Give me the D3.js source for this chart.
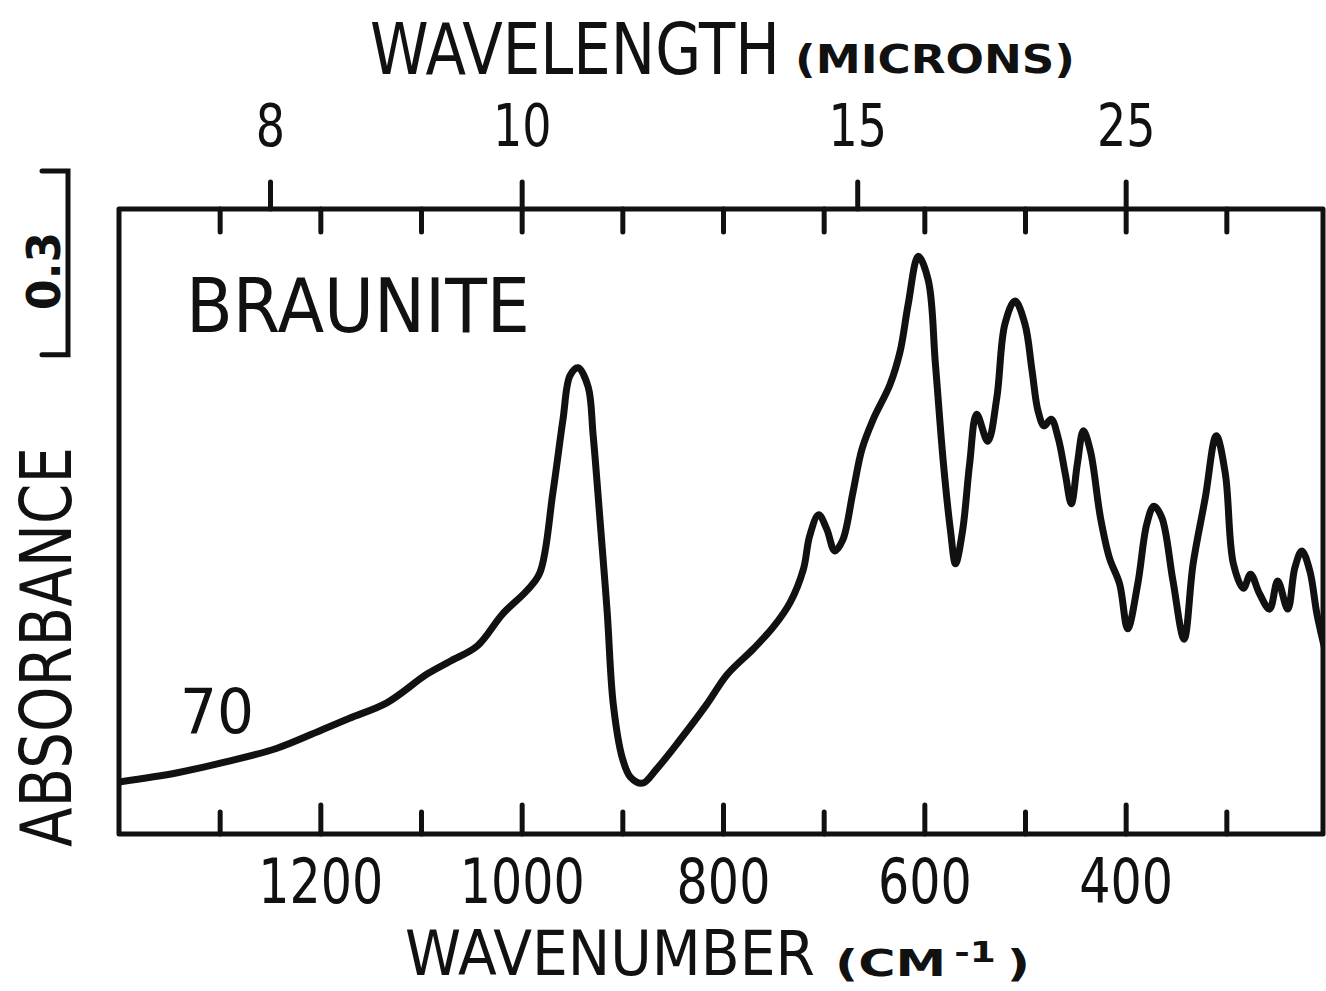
<!DOCTYPE html>
<html>
<head>
<meta charset="utf-8">
<title>Braunite IR absorbance spectrum</title>
<script src="https://cdn.jsdelivr.net/npm/d3@7"></script>
<style>
  html, body { margin: 0; padding: 0; background: #fff; }
  svg { display: block; }
  text { font-family: "DejaVu Sans", "Liberation Sans", sans-serif; fill: #111; }
</style>
</head>
<body>
<svg id="chart" width="1326" height="991"></svg>
<script>
// Infrared spectrum of braunite: wavenumber (cm-1) and absorbance
const wavenumber = [
  1400, 1342, 1293, 1243, 1197, 1171, 1134, 1094, 1071, 1044,
  1019, 995, 982, 969, 959, 952, 944, 934, 929, 922,
  915, 909, 900, 892, 880, 866, 843, 816, 796, 770,
  750, 733, 720, 714, 705, 697, 689, 681, 671, 662,
  651, 634, 624, 616, 606, 596, 589, 581, 574, 569,
  562, 555, 548, 537, 528, 520, 510, 500, 493, 487,
  481, 474, 467, 460, 454, 448, 442, 435, 425, 416,
  406, 398, 388, 379, 372, 364, 353, 342, 333, 321,
  310, 301, 293, 283, 276, 267, 257, 249, 239, 232,
  225, 217, 210, 201
];
const absorbance = [
  0.085, 0.100, 0.118, 0.140, 0.171, 0.189, 0.214, 0.261, 0.282, 0.307,
  0.359, 0.397, 0.426, 0.557, 0.676, 0.748, 0.761, 0.730, 0.651, 0.509,
  0.361, 0.212, 0.124, 0.093, 0.083, 0.106, 0.153, 0.212, 0.260, 0.302,
  0.338, 0.379, 0.433, 0.486, 0.521, 0.498, 0.462, 0.480, 0.557, 0.628,
  0.676, 0.734, 0.788, 0.865, 0.943, 0.903, 0.767, 0.604, 0.495, 0.441,
  0.495, 0.604, 0.685, 0.641, 0.712, 0.832, 0.870, 0.832, 0.756, 0.690,
  0.666, 0.677, 0.646, 0.588, 0.539, 0.604, 0.658, 0.625, 0.516, 0.450,
  0.408, 0.335, 0.408, 0.506, 0.535, 0.516, 0.413, 0.318, 0.441, 0.548,
  0.650, 0.588, 0.441, 0.401, 0.424, 0.392, 0.367, 0.413, 0.367, 0.434,
  0.462, 0.429, 0.359, 0.294
];

// Axis ticks
const wavenumberMajorTicks = [1200, 1000, 800, 600, 400];
const wavenumberMinorTicks = [1300, 1100, 900, 700, 500, 300];
const wavenumberTopTicks = [1300, 1200, 1100, 1000, 900, 800, 700, 600, 500, 400, 300];
const wavelengthTicks = [8, 10, 15, 25];   // microns
const absorbanceBar = 0.3;                 // scale-bar length

const svg = d3.select("#chart");
const W = +svg.attr("width");

const plot = { left: 119, right: 1327, top: 209, bottom: 834 };

const x = d3.scaleLinear().domain([1400, 200]).range([plot.left, plot.right]);
const y = d3.scaleLinear().domain([0, 1.02]).range([plot.bottom, plot.top]);

const frameRight = Math.min(plot.right, W - 3);
const ink = "#111";

// Place a text at (tx, ty) and squeeze it horizontally to a given width,
// mimicking the narrow plotter lettering.
function narrowText(parent, str, tx, ty, size, width, opts = {}) {
  const t = parent.append("text")
    .attr("text-anchor", opts.anchor || "start")
    .style("font-size", size + "px")
    .style("font-weight", opts.weight || "normal")
    .text(str);
  const natural = t.node().getComputedTextLength();
  const s = width / natural;
  t.attr("transform", `translate(${tx},${ty})${opts.rotate ? ` rotate(${opts.rotate})` : ""} scale(${s},1)`);
  return t;
}

// clip for the spectrum
svg.append("defs").append("clipPath").attr("id", "plotClip")
  .append("rect")
  .attr("x", plot.left).attr("y", plot.top)
  .attr("width", frameRight - plot.left).attr("height", plot.bottom - plot.top);

function styleAxis(g, width) {
  g.select(".domain").remove();
  g.selectAll(".tick line")
    .attr("stroke", ink).attr("stroke-width", width).attr("stroke-linecap", "round");
  g.selectAll(".tick text").attr("fill", ink);
}

// bottom axis: major ticks with labels
const gBottomMajor = svg.append("g")
  .attr("transform", `translate(0,${plot.bottom})`)
  .call(d3.axisBottom(x).tickValues(wavenumberMajorTicks)
    .tickSizeInner(-29).tickSizeOuter(0).tickPadding(24)
    .tickFormat(d3.format("d")));
styleAxis(gBottomMajor, 5);
gBottomMajor.selectAll(".tick text")
  .style("font-size", "63px")
  .attr("transform", "scale(0.78,1)");

// bottom axis: minor ticks
const gBottomMinor = svg.append("g")
  .attr("transform", `translate(0,${plot.bottom})`)
  .call(d3.axisBottom(x).tickValues(wavenumberMinorTicks)
    .tickSizeInner(-22).tickSizeOuter(0).tickFormat(""));
styleAxis(gBottomMinor, 5);

// top axis: inward wavenumber ticks
const gTopInner = svg.append("g")
  .attr("transform", `translate(0,${plot.top})`)
  .call(d3.axisTop(x).tickValues(wavenumberTopTicks)
    .tickSizeInner(-23).tickSizeOuter(0).tickFormat(""));
styleAxis(gTopInner, 5);

// top axis: outward wavelength ticks (micron -> cm-1)
const gTopWl = svg.append("g")
  .attr("transform", `translate(0,${plot.top})`)
  .call(d3.axisTop(x.copy()).tickValues(wavelengthTicks.map(l => 1e4 / l))
    .tickSizeInner(27).tickSizeOuter(0).tickPadding(36)
    .tickFormat(d => String(Math.round(1e4 / d))));
styleAxis(gTopWl, 5);
gTopWl.selectAll(".tick text")
  .style("font-size", "59px")
  .attr("transform", "scale(0.78,1)");

// frame
svg.append("path")
  .attr("d", `M${plot.left},${plot.top}H${frameRight}V${plot.bottom}H${plot.left}Z`)
  .attr("fill", "none").attr("stroke", ink).attr("stroke-width", 5)
  .attr("stroke-linejoin", "round");

// spectrum
const spectrum = wavenumber.map((w, i) => [w, absorbance[i]]);
svg.append("path")
  .datum(spectrum)
  .attr("clip-path", "url(#plotClip)")
  .attr("fill", "none").attr("stroke", ink).attr("stroke-width", 7)
  .attr("stroke-linejoin", "round").attr("stroke-linecap", "round")
  .attr("d", d3.line()
    .x(d => x(d[0])).y(d => y(d[1]))
    .curve(d3.curveCatmullRom.alpha(0.5)));

// absorbance scale bar
const barTop = 171;
const barLen = y(0) - y(absorbanceBar);
svg.append("path")
  .attr("d", `M42,${barTop}H68V${barTop + barLen}H42`)
  .attr("fill", "none").attr("stroke", ink).attr("stroke-width", 5)
  .attr("stroke-linejoin", "miter").attr("stroke-linecap", "round");
narrowText(svg, absorbanceBar.toFixed(1), 60, barTop + barLen / 2 + 8, 47, 78,
  { anchor: "middle", rotate: -90, weight: "bold" });

// axis titles
narrowText(svg, "WAVELENGTH", 370, 74, 72, 410);
narrowText(svg, "(MICRONS)", 795, 73, 39, 280, { weight: "bold" });

narrowText(svg, "WAVENUMBER", 405, 975, 63, 410);
const unit = svg.append("text")
  .style("font-size", "38px").style("font-weight", "bold");
unit.append("tspan").text("(CM");
unit.append("tspan").attr("dy", -14).attr("dx", 6).style("font-size", "28px").text("-1");
unit.append("tspan").attr("dy", 14).attr("dx", 8).text(")");
{
  const natural = unit.node().getBBox().width;
  unit.attr("transform", `translate(835,976) scale(${195 / natural},1)`);
}

narrowText(svg, "ABSORBANCE", 71, 647, 71, 400, { anchor: "middle", rotate: -90 });

// sample name and curve label
narrowText(svg, "BRAUNITE", 186, 332, 74, 344);
narrowText(svg, "70", 180, 733, 62, 74);
</script>
</body>
</html>
